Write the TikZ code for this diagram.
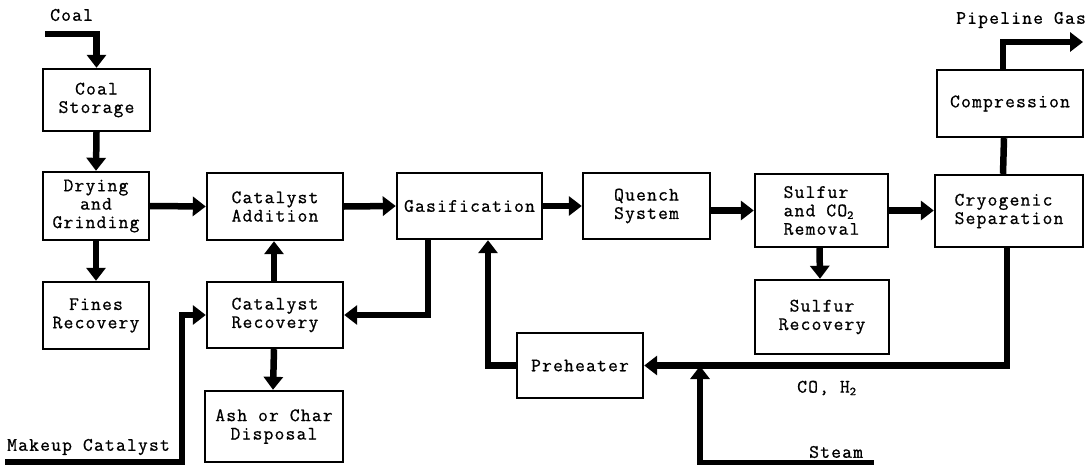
\documentclass[tikz,border=0pt]{standalone}
\usepackage{fontspec}
\newfontfamily\cour[FakeBold=0.8,LetterSpace=6.4]{Latin Modern Mono}
\usetikzlibrary{arrows.meta}
\newcommand{\subtwo}{\raisebox{-2.5pt}{\fontsize{12}{12}\selectfont 2}}
\begin{document}
\begin{tikzpicture}[x=1pt,y=-1pt,
  box/.style={draw, line width=2.4pt, inner sep=0pt, align=center,
    font=\cour\fontsize{19}{18.4}\selectfont},
  lbl/.style={inner sep=0pt, font=\cour\fontsize{19}{18.4}\selectfont},
  flow/.style={line width=6.5pt, -{Triangle[length=13pt,width=19pt]}},
  pipe/.style={line width=6.5pt}]
\useasboundingbox (0,0) rectangle (1091,465);
% boxes
\node[box, minimum width=107pt, minimum height=62pt] (cs) at (96.5,100) {Coal\\Storage};
\node[box, minimum width=106pt, minimum height=68pt] (dg) at (96,206) {Drying\\and\\Grinding};
\node[box, minimum width=136pt, minimum height=67pt] (ca) at (275,206.5) {Catalyst\\Addition};
\node[box, minimum width=106pt, minimum height=67pt] (fr) at (96,315.5) {Fines\\Recovery};
\node[box, minimum width=136pt, minimum height=66pt] (cr) at (275,315) {Catalyst\\Recovery};
\node[box, minimum width=138pt, minimum height=71pt] (ad) at (274,426.5) {Ash or Char\\ Disposal};
\node[box, minimum width=145pt, minimum height=66pt] (ga) at (469.5,206) {Gasification};
\node[box, minimum width=127pt, minimum height=66pt] (qs) at (646.5,206) {Quench\\System};
\node[box, minimum width=133pt, minimum height=73pt, align=left] (sr) at (821.5,210.5) {Sulfur\\and CO\subtwo\\Removal};
\node[box, minimum width=148pt, minimum height=72pt, align=left] (cy) at (1009,211) {Cryogenic\\Separation};
\node[box, minimum width=146pt, minimum height=67pt] (co) at (1010,103.5) {Compression};
\node[box, minimum width=134pt, minimum height=74pt] (su) at (822,317) {Sulfur\\Recovery};
\node[box, minimum width=126pt, minimum height=65pt] (ph) at (580,365.5) {Preheater};
% labels
\node[lbl, anchor=west] (lcoal) at (50,15) {Coal};
\node[lbl, anchor=east] (lpg) at (1086,20) {Pipeline Gas};
\node[lbl, anchor=west] (lmk) at (7,447) {Makeup Catalyst};
\node[lbl, anchor=west] (lco) at (797,388) {CO, H\subtwo};
\node[lbl, anchor=west] (lst) at (809,452) {Steam};
% free ends
\coordinate (coalin) at (45,34);
\coordinate (pg) at (1083,42);
\coordinate (mk) at (5,462);
\coordinate (mkc) at (182,315);
\coordinate (steam) at (874,463);
\coordinate (junc) at (700,366);
% connectors
\draw[flow, line cap=butt] (coalin) -| (cs.north);
\draw[flow] (cs.south) -- (dg.north);
\draw[flow] (dg.east) -- (ca.west);
\draw[flow] (dg.south) -- (fr.north);
\draw[flow] (ca.east) -- (ga.west);
\draw[flow] (ga.east) -- (qs.west);
\draw[flow] (qs.east |- sr.west) -- (sr.west);
\draw[flow] (sr.east) -- (cy.west |- sr.east);
\draw[pipe] ([xshift=-6pt]co.south) -- ([xshift=-6pt]cy.north);
\draw[flow] ([xshift=-7pt]co.north) |- (pg);
\draw[flow] ([xshift=-2pt]sr.south) -- ([xshift=-2pt]su.north);
\draw[flow] ([xshift=-2pt]cy.south) |- (ph.east);
\draw[flow] (steam) -| (junc);
\draw[flow] (ph.west) -| ([xshift=18.5pt]ga.south);
\draw[flow] ([xshift=-41.5pt]ga.south) |- (cr.east);
\draw[flow] ([xshift=-1pt]cr.north) -- ([xshift=-1pt]ca.south);
\draw[flow] ([xshift=-1pt]cr.south) -- ([xshift=-1pt]ad.north);
\draw[flow] (mk) -| (mkc) -- (cr.west);
\end{tikzpicture}
\end{document}
